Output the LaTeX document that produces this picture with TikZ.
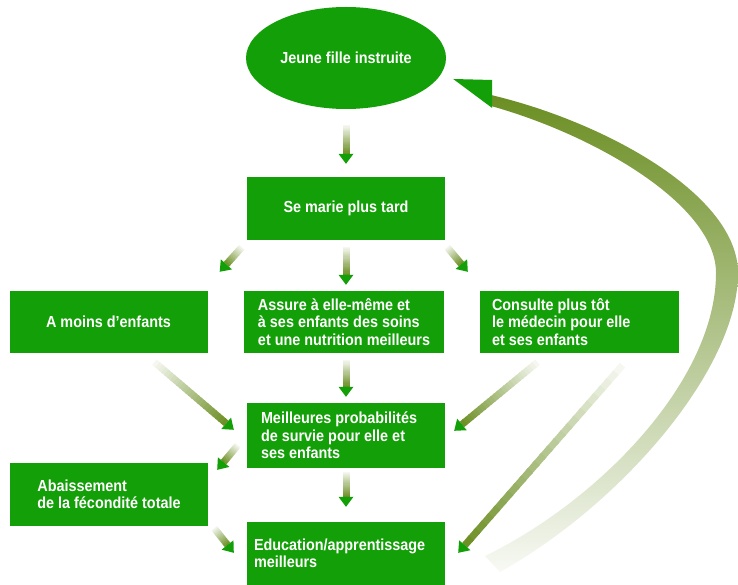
\documentclass[tikz,border=0pt]{standalone}
\usepackage{fontspec}
\setmainfont{Liberation Sans}[FakeStretch=0.9]
\usetikzlibrary{calc, shapes.geometric}

\definecolor{boxgreen}{RGB}{19,159,7}
\definecolor{olivegr}{RGB}{107,142,35}

% Shaft fading in from the tail, green head at the tip
\newcommand{\fadearrow}[2]{%
  \coordinate (fa-s) at (#1);
  \coordinate (fa-e) at ($(#2)!10pt!(#1)$);
  \foreach \k in {0,...,23} {
    \pgfmathsetmacro\fadeA{\k/24}
    \pgfmathsetmacro\fadeB{min((\k+1.3)/24,1)}
    \pgfmathsetmacro\fadeP{5+95*(\k+0.5)/24}
    \draw[line width=7pt, draw=olivegr!\fadeP!white] ($(fa-s)!\fadeA!(fa-e)$) -- ($(fa-s)!\fadeB!(fa-e)$);
  }
  \fill[boxgreen] (#2) -- ($(fa-e)!7.5pt!90:(#2)$) -- ($(fa-e)!7.5pt!-90:(#2)$) -- cycle;
}

\begin{document}
\begin{tikzpicture}[x=1pt, y=-1pt,
  box/.style={fill=boxgreen, text=white, align=flush left, minimum width=198pt, minimum height=63pt, inner ysep=0pt,
    font=\fontsize{16}{17.5}\selectfont\bfseries},
  oval/.style={ellipse, fill=boxgreen, text=white, minimum width=200pt, minimum height=102pt, inner sep=0pt,
    font=\fontsize{16}{17.5}\selectfont\bfseries}]
\useasboundingbox (0,0) rectangle (738,585);
% Boxes
\node[oval] (jeune) at (346,58) {Jeune fille instruite};
\node[box, align=center] (marie) at (346,208.5) {Se marie plus tard};
\node[box, align=center, minimum height=62pt] (amoins) at (108.5,322) {A moins d'enfants};
\node[box, minimum width=200pt, minimum height=62pt] (assure) at (344,322) {Assure à elle-même et\\à ses enfants des soins\\et une nutrition meilleurs};
\node[box, minimum height=62pt, inner xsep=12pt, text width=175pt] (consulte) at (579.5,322) {Consulte plus tôt\\le médecin pour elle\\et ses enfants};
\node[box, minimum height=65pt, inner xsep=14pt, text width=170pt] (meill) at (346,435.5) {Meilleures probabilités\\de survie pour elle et\\ses enfants};
\node[box] (abaiss) at (109,494.5) {Abaissement\\de la fécondité totale};
\node[box, inner xsep=7pt, text width=184pt] (educ) at (346,553.5) {Education/apprentissage\\meilleurs};
% Arrow ends, set off from the boxes
\coordinate (s1) at ($(jeune.south)+(0,16)$);
\coordinate (e1) at ($(marie.north)+(0,-13)$);
\coordinate (s2) at ($(marie.south west)+(-5,7)$);
\coordinate (e2) at ($(amoins.north east)+(12,-19)$);
\coordinate (s3) at ($(marie.south)+(0,7)$);
\coordinate (e3) at ($(assure.north)+(2,-6)$);
\coordinate (s4) at ($(marie.south east)+(2,7)$);
\coordinate (e4) at ($(consulte.north west)+(-12,-19)$);
\coordinate (s5) at ($(amoins.south)+(46,9)$);
\coordinate (e5) at ($(meill.north west)+(-13,27)$);
\coordinate (s6) at ($(assure.south)+(2,7)$);
\coordinate (e6) at ($(meill.north)+(0,-6)$);
\coordinate (s7) at ($(consulte.south)+(-42,9)$);
\coordinate (e7) at ($(meill.north east)+(9,28)$);
\coordinate (s8) at ($(meill.south west)+(-9,-23)$);
\coordinate (e8) at ($(abaiss.north east)+(9,7)$);
\coordinate (s9) at ($(meill.south)+(0,4)$);
\coordinate (e9) at ($(educ.north)+(0,-15)$);
\coordinate (s10) at ($(abaiss.south east)+(6,2)$);
\coordinate (e10) at ($(educ.north west)+(-13,31)$);
\coordinate (s11) at ($(consulte.south)+(43,12)$);
\coordinate (e11) at ($(educ.north east)+(13,31)$);
\coordinate (backtip) at ($(jeune.east)+(7,21)$);
% Arrows
\foreach \i in {1,...,11} {\fadearrow{s\i}{e\i}}
% Feedback curve back to the top
\shade[top color=olivegr, middle color=olivegr!55!white, bottom color=olivegr!5!white]
  (491,95) .. controls (605,122) and (738,195) .. (738,273)
  .. controls (738,370) and (620,505) .. (500,572)
  -- (485,556) .. controls (600,500) and (716,380) .. (716,273)
  .. controls (716,205) and (595,135) .. (491,106) -- cycle;
\fill[boxgreen] (backtip) -- ++(39,1) -- ++(0,28) -- cycle;
\end{tikzpicture}
\end{document}
